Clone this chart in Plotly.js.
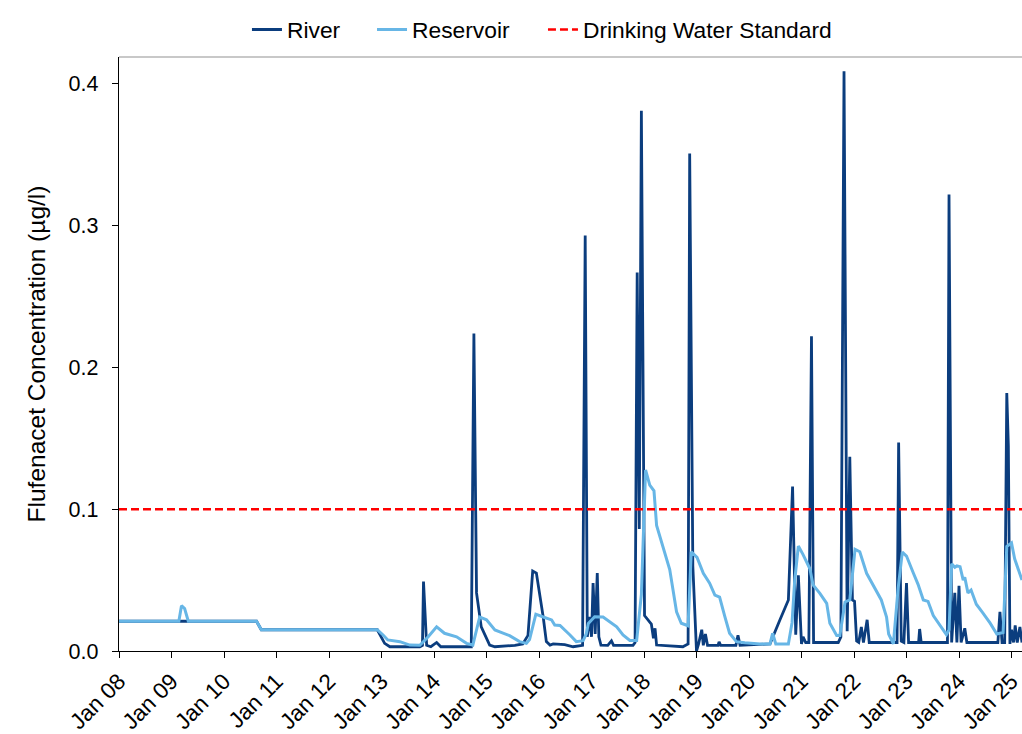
<!DOCTYPE html>
<html>
<head>
<meta charset="utf-8">
<script src="https://cdn.plot.ly/plotly-3.0.1.min.js"></script>
<style>html,body{margin:0;padding:0;background:#fff;}#chart{width:1022px;height:734px;}</style>
</head>
<body>
<div id="chart"></div>
<script>
// Time as decimal years
const riverT = [2008.00,2010.62,2010.71,2012.92,2013.06,2013.16,2013.73,2013.78,2013.80,2013.86,2013.94,2014.05,2014.13,2014.71,2014.76,2014.81,2014.90,2015.06,2015.16,2015.54,2015.69,2015.79,2015.88,2015.95,2016.08,2016.14,2016.21,2016.27,2016.49,2016.65,2016.83,2016.88,2016.92,2016.97,2017.00,2017.03,2017.07,2017.11,2017.14,2017.18,2017.31,2017.38,2017.42,2017.79,2017.83,2017.87,2017.91,2017.95,2018.01,2018.05,2018.14,2018.18,2018.21,2018.24,2018.74,2018.84,2018.87,2018.93,2019.00,2019.04,2019.10,2019.13,2019.17,2019.21,2019.41,2019.43,2019.46,2019.75,2019.79,2019.83,2020.40,2020.59,2020.75,2020.83,2020.89,2020.94,2020.97,2021.00,2021.03,2021.08,2021.14,2021.19,2021.23,2021.70,2021.75,2021.81,2021.87,2021.92,2021.97,2022.01,2022.05,2022.09,2022.14,2022.18,2022.25,2022.29,2022.82,2022.85,2022.90,2022.95,2023.00,2023.04,2023.23,2023.25,2023.28,2023.78,2023.81,2023.86,2023.92,2023.96,2024.00,2024.04,2024.11,2024.15,2024.74,2024.78,2024.82,2024.87,2024.91,2024.94,2024.97,2025.00,2025.04,2025.07,2025.11,2025.16,2025.20];
const riverV = [0.021,0.021,0.015,0.015,0.0054,0.003,0.003,0.004,0.049,0.004,0.003,0.006,0.003,0.003,0.224,0.041,0.017,0.0042,0.003,0.004,0.005,0.011,0.0564,0.055,0.024,0.0066,0.0042,0.005,0.0045,0.003,0.004,0.293,0.010,0.024,0.010,0.048,0.012,0.055,0.010,0.0042,0.004,0.0071,0.004,0.004,0.006,0.267,0.086,0.381,0.025,0.023,0.019,0.009,0.016,0.0042,0.003,0.005,0.351,0.060,0.0,0.005,0.015,0.004,0.012,0.004,0.004,0.0065,0.004,0.004,0.011,0.004,0.005,0.022,0.036,0.116,0.0115,0.0534,0.030,0.005,0.010,0.006,0.006,0.222,0.006,0.006,0.010,0.409,0.014,0.137,0.036,0.035,0.007,0.006,0.017,0.006,0.022,0.006,0.006,0.147,0.007,0.006,0.048,0.006,0.006,0.0155,0.006,0.006,0.322,0.006,0.041,0.006,0.046,0.006,0.016,0.006,0.006,0.0277,0.006,0.006,0.182,0.145,0.005,0.015,0.006,0.018,0.006,0.017,0.006];

const resT = [2008.00,2009.14,2009.19,2009.25,2009.32,2010.62,2010.71,2012.92,2013.03,2013.12,2013.35,2013.54,2013.73,2013.89,2014.05,2014.20,2014.43,2014.62,2014.74,2014.87,2015.00,2015.16,2015.29,2015.44,2015.63,2015.76,2015.82,2015.94,2016.08,2016.24,2016.30,2016.40,2016.59,2016.71,2016.84,2016.90,2016.94,2017.06,2017.22,2017.35,2017.48,2017.60,2017.73,2017.86,2017.95,2018.03,2018.11,2018.19,2018.24,2018.49,2018.62,2018.71,2018.84,2018.90,2019.01,2019.13,2019.25,2019.35,2019.44,2019.54,2019.63,2019.76,2019.92,2020.21,2020.40,2020.45,2020.51,2020.75,2020.82,2020.87,2020.94,2021.03,2021.10,2021.16,2021.22,2021.35,2021.48,2021.54,2021.67,2021.73,2021.83,2021.92,2022.02,2022.11,2022.24,2022.36,2022.52,2022.62,2022.66,2022.75,2022.84,2022.92,2023.00,2023.13,2023.22,2023.32,2023.41,2023.51,2023.64,2023.76,2023.81,2023.86,2023.92,2023.96,2024.02,2024.08,2024.11,2024.17,2024.23,2024.33,2024.45,2024.59,2024.72,2024.84,2024.91,2025.00,2025.06,2025.13,2025.20];
const resV = [0.021,0.021,0.032,0.030,0.021,0.021,0.015,0.015,0.0113,0.0078,0.0066,0.0042,0.004,0.010,0.017,0.0125,0.010,0.0054,0.0042,0.024,0.022,0.0148,0.013,0.0108,0.0066,0.0054,0.008,0.026,0.024,0.0219,0.0183,0.018,0.0113,0.0066,0.0073,0.012,0.0195,0.0242,0.024,0.0207,0.017,0.0113,0.0074,0.0074,0.040,0.1277,0.117,0.113,0.0885,0.0574,0.0277,0.0196,0.0178,0.070,0.066,0.0548,0.0478,0.0395,0.038,0.0242,0.0125,0.0066,0.0058,0.005,0.005,0.0125,0.005,0.005,0.020,0.0494,0.074,0.068,0.063,0.058,0.0466,0.0407,0.0336,0.0195,0.011,0.011,0.0346,0.036,0.0717,0.070,0.0548,0.047,0.036,0.024,0.012,0.005,0.044,0.0697,0.067,0.055,0.047,0.036,0.035,0.025,0.0175,0.0115,0.015,0.0615,0.059,0.060,0.0595,0.050,0.052,0.041,0.043,0.033,0.027,0.0198,0.012,0.013,0.0737,0.0763,0.065,0.0574,0.050];

const standardT = [2008.00, 2025.20];
const standardV = [0.1, 0.1];

const tickYears = [2008,2009,2010,2011,2012,2013,2014,2015,2016,2017,2018,2019,2020,2021,2022,2023,2024,2025];
const tickLabels = ["Jan 08","Jan 09","Jan 10","Jan 11","Jan 12","Jan 13","Jan 14","Jan 15","Jan 16","Jan 17","Jan 18","Jan 19","Jan 20","Jan 21","Jan 22","Jan 23","Jan 24","Jan 25"];
const yTicks = [0, 0.1, 0.2, 0.3, 0.4];

const FONT = 'Liberation Sans, Arial, sans-serif';
const legendFont = {size: 22.8, family: FONT, color: '#000'};
function legendAt(x) {
  return {orientation: 'h', x: x, xanchor: 'left', y: 1.046, yanchor: 'middle',
          font: legendFont, bgcolor: 'rgba(0,0,0,0)', borderwidth: 0};
}

const traces = [
  {x: riverT, y: riverV, type: 'scatter', mode: 'lines', name: 'River', legend: 'legend',
   line: {color: '#0b3d7e', width: 2.8}},
  {x: resT, y: resV, type: 'scatter', mode: 'lines', name: 'Reservoir', legend: 'legend2',
   line: {color: '#67b6e6', width: 3}},
  {x: standardT, y: standardV, type: 'scatter', mode: 'lines', name: 'Drinking Water Standard', legend: 'legend3',
   line: {color: '#ff0000', width: 2.5, dash: '8px,4px'}}
];

const layout = {
  width: 1022, height: 734,
  margin: {l: 119, r: 0, t: 57, b: 83},
  paper_bgcolor: '#ffffff', plot_bgcolor: '#ffffff',
  font: {family: FONT, color: '#000', size: 21},
  showlegend: true,
  legend: legendAt(0.1417),
  legend2: legendAt(0.2802),
  legend3: legendAt(0.4695),
  xaxis: {
    range: [2008, 2025.2], showgrid: false, zeroline: false,
    tickmode: 'array', tickvals: tickYears, ticktext: tickLabels, tickangle: -45,
    ticks: 'outside', ticklen: 6, tickcolor: '#000', tickwidth: 1,
    showline: true, linecolor: '#000', linewidth: 1.2,
    automargin: false, ticklabeloverflow: 'allow', ticklabelstandoff: 1,
    tickfont: {size: 22.5, family: FONT, color: '#000'}
  },
  yaxis: {
    range: [0, 0.419], showgrid: false, zeroline: false,
    tickmode: 'array', tickvals: yTicks, tickformat: '.1f',
    ticks: 'outside', ticklen: 6, tickcolor: '#000', tickwidth: 1,
    showline: true, linecolor: '#000', linewidth: 1.2,
    ticklabelstandoff: 9,
    tickfont: {size: 21.5, family: FONT, color: '#000'},
    title: {text: 'Flufenacet Concentration (µg/l)', font: {size: 24.5, family: FONT, color: '#000'}, standoff: 16}
  },
  shapes: [
    {type: 'line', xref: 'paper', yref: 'paper', x0: 0, x1: 1, y0: 1, y1: 1,
     line: {color: '#c8c8c8', width: 2}}
  ]
};

Plotly.newPlot('chart', traces, layout, {staticPlot: true, displayModeBar: false});
</script>
</body>
</html>
